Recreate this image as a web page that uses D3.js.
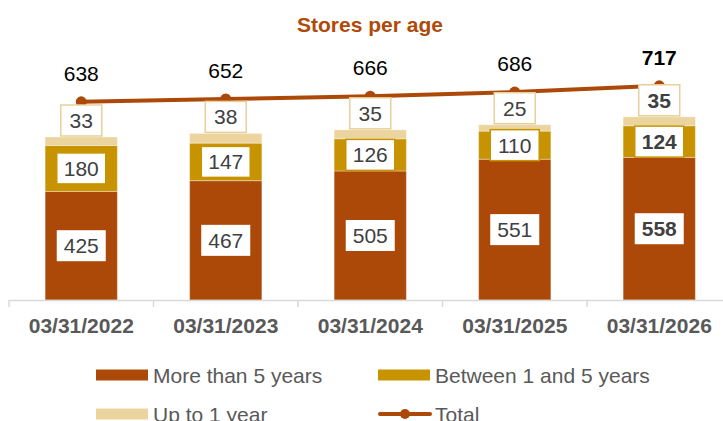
<!DOCTYPE html>
<html>
<head>
<meta charset="utf-8">
<script src="https://cdn.jsdelivr.net/npm/d3@7"></script>
<style>
  body { margin: 0; background: #fff; }
  text { font-family: "Liberation Sans", Arial, sans-serif; }
</style>
</head>
<body>
<div id="chart"></div>
<script>
const categories = ["03/31/2022", "03/31/2023", "03/31/2024", "03/31/2025", "03/31/2026"];
const moreThan5 = [425, 467, 505, 551, 558];
const between1and5 = [180, 147, 126, 110, 124];
const upTo1 = [33, 38, 35, 25, 35];
const totals = [638, 652, 666, 686, 717];

const seriesNames = ["More than 5 years", "Between 1 and 5 years", "Up to 1 year"];
const seriesColors = ["#ad4908", "#c79300", "#ebd49d"];
const boxStroke = ["none", "#c79300", "#e8d09a"];
const lineColor = "#ad4908";

drawChart();

function drawChart() {
  const width = 723;
  const height = 421;
  const svg = d3.select("#chart").append("svg")
    .attr("width", width)
    .attr("height", height);

  const x = d3.scaleBand()
    .domain(categories)
    .range([9, 731.5])
    .paddingInner(0.5)
    .paddingOuter(0.25);
  const step = x.step();

  const y = d3.scaleLinear().domain([0, 1000]).range([300, 44.5]);
  // secondary axis for the total line
  const y2 = d3.scaleLinear().domain([0, 1000]).range([231, 28.5]);

  // title
  svg.append("text")
    .attr("x", 370)
    .attr("y", 32)
    .attr("text-anchor", "middle")
    .style("font-size", "21px")
    .style("font-weight", "bold")
    .attr("fill", "#b04a0a")
    .text("Stores per age");

  const rows = categories.map((c, i) => ({
    cat: c, vals: [moreThan5[i], between1and5[i], upTo1[i]], total: totals[i], last: i === categories.length - 1
  }));

  // stacked bars
  rows.forEach((d) => {
    let base = 0;
    d.segs = d.vals.map((v, k) => {
      const s = { k, v, y0: base, y1: base + v };
      base += v;
      return s;
    });
  });

  const barG = svg.append("g");
  rows.forEach((d) => {
    barG.selectAll(null)
      .data(d.segs)
      .join("rect")
      .attr("x", x(d.cat))
      .attr("width", x.bandwidth())
      .attr("y", (s) => y(s.y1))
      .attr("height", (s) => y(s.y0) - y(s.y1))
      .attr("fill", (s) => seriesColors[s.k])
      .attr("stroke", "#fff")
      .attr("stroke-opacity", 0.35)
      .attr("stroke-width", 1);
  });

  // axis
  const axisG = svg.append("g");
  axisG.append("line")
    .attr("x1", 9).attr("x2", width)
    .attr("y1", y(0) + 0.5).attr("y2", y(0) + 0.5)
    .attr("stroke", "#d9d9d9").attr("stroke-width", 1.5);
  axisG.selectAll(".tick")
    .data(categories)
    .join("line")
    .attr("x1", (c) => x(c) - step * 0.25)
    .attr("x2", (c) => x(c) - step * 0.25)
    .attr("y1", y(0)).attr("y2", y(0) + 7)
    .attr("stroke", "#d9d9d9").attr("stroke-width", 1.5);

  const xAxis = d3.axisBottom(x).tickSize(0).tickPadding(0);
  const xg = svg.append("g")
    .attr("transform", `translate(0,${y(0)})`)
    .call(xAxis);
  xg.select(".domain").remove();
  xg.selectAll("text")
    .attr("y", 33)
    .attr("dy", null)
    .style("font-size", "21px")
    .style("font-weight", "bold")
    .style("font-family", "'Liberation Sans', Arial, sans-serif")
    .attr("fill", "#595959");

  // total line (drawn under label boxes)
  const line = d3.line()
    .x((d) => x(d.cat) + x.bandwidth() / 2)
    .y((d) => y2(d.total));
  svg.append("path")
    .datum(rows)
    .attr("d", line)
    .attr("fill", "none")
    .attr("stroke", lineColor)
    .attr("stroke-width", 4)
    .attr("stroke-linecap", "round");
  svg.selectAll(".dot")
    .data(rows)
    .join("circle")
    .attr("cx", (d) => x(d.cat) + x.bandwidth() / 2)
    .attr("cy", (d) => y2(d.total))
    .attr("r", 5.5)
    .attr("fill", lineColor);

  svg.selectAll(".total")
    .data(rows)
    .join("text")
    .attr("x", (d) => x(d.cat) + x.bandwidth() / 2)
    .attr("y", (d) => y2(d.total) - 21)
    .attr("text-anchor", "middle")
    .style("font-size", "21px")
    .style("font-weight", (d) => d.last ? "bold" : "normal")
    .attr("fill", "#000")
    .text((d) => d.total);

  // segment labels in boxes
  const labG = svg.append("g");
  rows.forEach((d) => {
    const cx = x(d.cat) + x.bandwidth() / 2;
    d.segs.forEach((s) => {
      const txt = String(s.v);
      const w = txt.length === 2 ? 41 : 49;
      const h = 31;
      let cy;
      if (s.k === 2) cy = y(s.y1) - h / 2 - 1;
      else cy = (y(s.y0) + y(s.y1)) / 2;
      labG.append("rect")
        .attr("x", cx - w / 2)
        .attr("y", cy - h / 2)
        .attr("width", w)
        .attr("height", h)
        .attr("fill", "#fff")
        .attr("stroke", boxStroke[s.k])
        .attr("stroke-width", 1.5);
      labG.append("text")
        .attr("x", cx)
        .attr("y", cy + 7.5)
        .attr("text-anchor", "middle")
        .style("font-size", "21px")
        .style("font-weight", d.last ? "bold" : "normal")
        .attr("fill", "#404040")
        .text(txt);
    });
  });

  // legend
  const legendItems = [
    { name: seriesNames[0], color: seriesColors[0], x: 96, y: 375, type: "rect" },
    { name: seriesNames[1], color: seriesColors[1], x: 378, y: 375, type: "rect" },
    { name: seriesNames[2], color: seriesColors[2], x: 96, y: 414, type: "rect" },
    { name: "Total", color: lineColor, x: 378, y: 414, type: "line" }
  ];
  const lg = svg.append("g");
  legendItems.forEach((it) => {
    if (it.type === "rect") {
      lg.append("rect")
        .attr("x", it.x).attr("y", it.y - 5.5)
        .attr("width", 52).attr("height", 11)
        .attr("fill", it.color);
    } else {
      lg.append("line")
        .attr("x1", it.x + 2).attr("x2", it.x + 52)
        .attr("y1", it.y).attr("y2", it.y)
        .attr("stroke", it.color).attr("stroke-width", 4)
        .attr("stroke-linecap", "round");
      lg.append("circle")
        .attr("cx", it.x + 27).attr("cy", it.y)
        .attr("r", 5).attr("fill", it.color);
    }
    lg.append("text")
      .attr("x", it.x + 57)
      .attr("y", it.y + 7.5)
      .style("font-size", "21px")
      .attr("fill", "#595959")
      .text(it.name);
  });
}
</script>
</body>
</html>
